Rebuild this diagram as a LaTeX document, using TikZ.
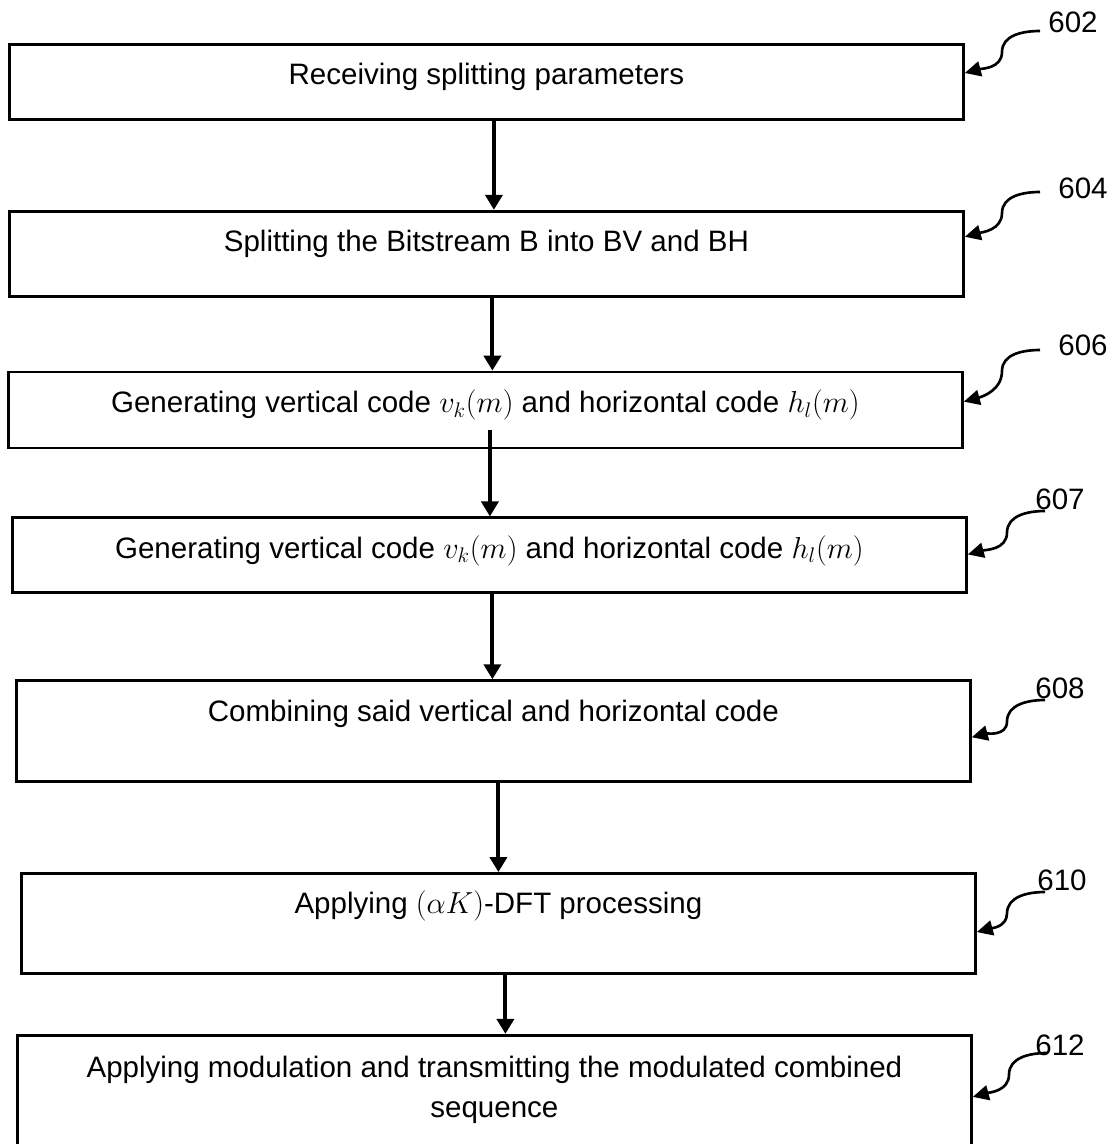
\documentclass[tikz,border=0pt]{standalone}
\usepackage{fontspec}
\setmainfont{Liberation Sans}
\usepackage{tikz}
\usetikzlibrary{arrows.meta,positioning}
\newcommand{\boxfont}{\fontsize{16.8}{22.8}\selectfont}
\tikzset{
  stepbox/.style={draw,line width=1.6pt,inner sep=0pt,minimum width=19.08cm,
    text height=0.81cm,align=center,font=\boxfont},
  reflabel/.style={inner sep=0pt,font=\boxfont},
  flowarrow/.style={-{Triangle[length=0.3cm,width=0.34cm]},line width=2.2pt},
  refarrow/.style={-{Triangle[length=0.32cm,width=0.3cm]},line width=1.5pt}
}
\begin{document}
\begin{tikzpicture}
  \useasboundingbox (0,0) rectangle (22.36,-22.88);
  \clip (0,0) rectangle (22.36,-22.88);
  \node[stepbox,text depth=0.69cm,anchor=north west] (s602) at (0.16,-0.86)
    {Receiving splitting parameters};
  \node[stepbox,text depth=0.89cm,below=1.78cm of s602.south west,anchor=north west] (s604)
    {Splitting the Bitstream B into BV and BH};
  \node[stepbox,text depth=0.71cm,below=1.46cm of s604.south west,anchor=north west,xshift=-0.02cm] (s606)
    {Generating vertical code $v_k(m)$ and horizontal code $h_l(m)$};
  \node[stepbox,text depth=0.69cm,below=1.34cm of s606.south west,anchor=north west,xshift=0.08cm] (s607)
    {Generating vertical code $v_k(m)$ and horizontal code $h_l(m)$};
  \node[stepbox,text depth=1.21cm,below=1.70cm of s607.south west,anchor=north west,xshift=0.08cm] (s608)
    {Combining said vertical and horizontal code};
  \node[stepbox,text depth=1.19cm,below=1.78cm of s608.south west,anchor=north west,xshift=0.1cm] (s610)
    {Applying $(\alpha K)$-DFT processing};
  \node[stepbox,text height=1.64cm,text depth=0.8cm,below=1.18cm of s610.south west,anchor=north west,xshift=-0.08cm] (s612)
    {Applying modulation and transmitting the modulated combined\\ sequence};

  % flow between the steps
  \draw[flowarrow] ([xshift=0.15cm]s602.south) -- ([xshift=0.15cm]s602.south |- s604.north);
  \draw[flowarrow] ([xshift=0.12cm]s604.south) -- ([xshift=0.12cm]s604.south |- s606.north);
  \draw[flowarrow] ([shift={(0.09cm,0.38cm)}]s606.south) -- ([xshift=0.09cm]s606.south |- s607.north);
  \draw[flowarrow] ([xshift=0.06cm]s607.south) -- ([xshift=0.06cm]s607.south |- s608.north);
  \draw[flowarrow] ([xshift=0.1cm]s608.south) -- ([xshift=0.1cm]s608.south |- s610.north);
  \draw[flowarrow] ([xshift=0.14cm]s610.south) -- ([xshift=0.14cm]s610.south |- s612.north);

  % reference numerals
  \node[reflabel] (l602) at (21.46,-0.44) {602};
  \node[reflabel] (l604) at (21.66,-3.76) {604};
  \node[reflabel] (l606) at (21.66,-6.90) {606};
  \node[reflabel] (l607) at (21.20,-9.98) {607};
  \node[reflabel] (l608) at (21.20,-13.76) {608};
  \node[reflabel] (l610) at (21.24,-17.60) {610};
  \node[reflabel] (l612) at (21.20,-20.90) {612};
  \draw[refarrow] ([shift={(-0.66,-0.18)}]l602.center) to[out=180,in=90] ++(-0.76,-0.42)
    to[out=-90,in=15] ([yshift=-0.6cm]s602.north east);
  \draw[refarrow] ([shift={(-0.86,-0.08)}]l604.center) to[out=180,in=90] ++(-0.76,-0.42)
    to[out=-90,in=15] ([yshift=-0.54cm]s604.north east);
  \draw[refarrow] ([shift={(-0.86,-0.1)}]l606.center) to[out=180,in=90] ++(-0.76,-0.42)
    to[out=-90,in=15] ([yshift=-0.62cm]s606.north east);
  \draw[refarrow] ([shift={(-0.3,-0.24)}]l607.center) to[out=180,in=90] ++(-0.76,-0.43)
    to[out=-90,in=15] ([yshift=-0.76cm]s607.north east);
  \draw[refarrow] ([shift={(-0.3,-0.24)}]l608.center) to[out=180,in=90] ++(-0.76,-0.43)
    to[out=-90,in=15] ([yshift=-1.16cm]s608.north east);
  \draw[refarrow] ([shift={(-0.34,-0.24)}]l610.center) to[out=180,in=90] ++(-0.76,-0.43)
    to[out=-90,in=15] ([yshift=-1.2cm]s610.north east);
  \draw[refarrow] ([shift={(-0.26,-0.16)}]l612.center) to[out=180,in=90] ++(-0.76,-0.43)
    to[out=-90,in=15] ([yshift=-1.26cm]s612.north east);
\end{tikzpicture}
\end{document}
